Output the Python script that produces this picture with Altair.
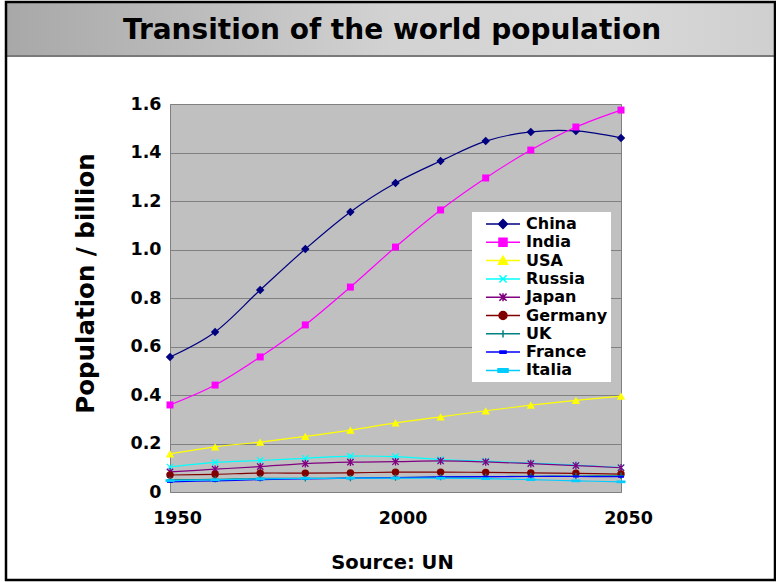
import altair as alt
import pandas as pd

years = [1950, 1960, 1970, 1980, 1990, 2000, 2010, 2020, 2030, 2040, 2050]
countries = ["China", "India", "USA", "Russia", "Japan", "Germany", "UK", "France", "Italia"]

china = [0.557, 0.660, 0.833, 1.002, 1.155, 1.274, 1.365, 1.447, 1.485, 1.489, 1.460]
india = [0.359, 0.441, 0.557, 0.689, 0.845, 1.010, 1.163, 1.295, 1.410, 1.505, 1.575]
usa = [0.157, 0.186, 0.206, 0.229, 0.255, 0.285, 0.310, 0.335, 0.358, 0.378, 0.395]
russia = [0.103, 0.122, 0.130, 0.139, 0.148, 0.146, 0.134, 0.127, 0.119, 0.111, 0.101]
japan = [0.083, 0.094, 0.105, 0.117, 0.123, 0.125, 0.128, 0.124, 0.117, 0.109, 0.100]
germany = [0.070, 0.073, 0.078, 0.078, 0.079, 0.082, 0.082, 0.081, 0.079, 0.077, 0.074]
uk = [0.050, 0.052, 0.056, 0.056, 0.057, 0.059, 0.061, 0.063, 0.065, 0.066, 0.067]
france = [0.042, 0.046, 0.051, 0.054, 0.057, 0.059, 0.062, 0.063, 0.064, 0.064, 0.063]
italia = [0.047, 0.050, 0.054, 0.056, 0.057, 0.057, 0.057, 0.055, 0.051, 0.046, 0.042]

colors = ["#000080", "#FF00FF", "#FFFF00", "#00FFFF", "#800080",
          "#800000", "#008080", "#0000FF", "#00CCFF"]

title_text = ["Transition of the world population"]
y_ticks = [0, 0.2, 0.4, 0.6, 0.8, 1.0, 1.2, 1.4, 1.6]
x_ticks = [1950, 2000, 2050]

series = [china, india, usa, russia, japan, germany, uk, france, italia]
rows = []
for name, vals in zip(countries, series):
    for yr, v in zip(years, vals):
        rows.append({"Year": yr, "Country": name, "Pop": v})
df = pd.DataFrame(rows)

FONT = "DejaVu Sans"

x_enc = alt.X(
    "Year:Q",
    scale=alt.Scale(domain=[1950, 2050], nice=False, zero=False),
    axis=alt.Axis(
        values=x_ticks, format="d", labelFont=FONT, labelFontWeight="bold",
        labelFontSize=17.5, labelColor="black", labelPadding=17, labelOffset=7,
        labelFlush=False, ticks=False, domain=False, grid=False,
        title="Source: UN", titleFont=FONT, titleFontWeight="bold",
        titleFontSize=19.5, titleColor="black", titleX=222, titleY=70,
        titleBaseline="middle", titleAlign="center",
    ),
)
y_enc = alt.Y(
    "Pop:Q",
    scale=alt.Scale(domain=[0, 1.6], nice=False),
    axis=alt.Axis(
        values=y_ticks,
        labelExpr="datum.value == 0 ? '0' : format(datum.value, '.1f')",
        labelFont=FONT, labelFontWeight="bold", labelFontSize=17.5,
        labelColor="black", labelPadding=9, ticks=False, domain=False,
        grid=True, gridColor="#808080", gridWidth=1,
        title="Population / billion", titleFont=FONT, titleFontWeight="bold",
        titleFontSize=24.5, titleColor="black", titleX=-84, titleY=179,
        titleBaseline="middle", titleAlign="center", titleAngle=270,
    ),
)

# plot markers (per series)
marker_specs = {
    "China": dict(shape="diamond", size=72, filled=True),
    "India": dict(shape="square", size=49, filled=True),
    "USA": dict(shape="triangle-up", size=70, filled=True),
    "Russia": dict(shape="M-1,-1L1,1M-1,1L1,-1", size=40, filled=False),
    "Japan": dict(shape="M-1,-1L1,1M-1,1L1,-1M0,-1.2L0,1.2", size=40, filled=False),
    "Germany": dict(shape="circle", size=55, filled=True),
    "UK": dict(shape="M-1,0L1,0M0,-1L0,1", size=40, filled=False),
    "France": dict(shape="M-1,-0.35L1,-0.35L1,0.35L-1,0.35Z", size=36, filled=True),
    "Italia": dict(shape="M-1,-0.3L1,-0.3L1,0.3L-1,0.3Z", size=81, filled=True),
}

# legend symbols: line with marker (unit = 8 px)
LINE = "M0.25,0L4.5,0"
legend_shapes = [
    LINE + "M2.375,-0.56L2.935,0L2.375,0.56L1.815,0Z",
    LINE + "M1.875,-0.5L2.875,-0.5L2.875,0.5L1.875,0.5Z",
    LINE + "M2.375,-0.55L2.95,0.45L1.8,0.45Z",
    LINE + "M1.925,-0.45L2.825,0.45M1.925,0.45L2.825,-0.45",
    LINE + "M1.925,-0.45L2.825,0.45M1.925,0.45L2.825,-0.45M2.375,-0.5L2.375,0.5",
    LINE + "M1.875,0A0.5,0.5,0,1,0,2.875,0A0.5,0.5,0,1,0,1.875,0Z",
    LINE + "M2.375,-0.45L2.375,0.45",
    LINE + "M2,-0.15L2.75,-0.15L2.75,0.15L2,0.15Z",
    LINE + "M1.75,-0.22L3,-0.22L3,0.22L1.75,0.22Z",
]

layers = []
one = pd.DataFrame({"k": [0]})

# decorations: title bar, frame, title
bar = alt.Chart(one).mark_rect(
    fill=alt.LinearGradient(
        gradient="linear", x1=0, x2=1, y1=0, y2=0,
        stops=[
            alt.GradientStop(offset=0, color="#a8a8a8"),
            alt.GradientStop(offset=0.25, color="#bcbcbc"),
            alt.GradientStop(offset=0.5, color="#d2d2d2"),
            alt.GradientStop(offset=0.8, color="#d8d8d8"),
            alt.GradientStop(offset=1, color="#cfcfcf"),
        ],
    )
).encode(x=alt.value(-164), x2=alt.value(605), y=alt.value(-101), y2=alt.value(-48))
bar_line = alt.Chart(one).mark_rule(color="#7a7a7a", strokeWidth=2).encode(
    x=alt.value(-164), x2=alt.value(605), y=alt.value(-48)
)
frame = alt.Chart(one).mark_rect(fill="transparent", stroke="black", strokeWidth=2.5).encode(
    x=alt.value(-164), x2=alt.value(605), y=alt.value(-102), y2=alt.value(476)
)
title = alt.Chart(pd.DataFrame({"t": title_text})).mark_text(
    font=FONT, fontWeight="bold", fontSize=28, align="center",
    baseline="alphabetic", color="black"
).encode(text="t:N", x=alt.value(222), y=alt.value(-65))

layers += [bar, bar_line, frame, title]

for name, col in zip(countries, colors):
    sub = alt.Chart(df).transform_filter(alt.datum.Country == name)
    line = sub.mark_line(color=col, strokeWidth=1.2, interpolate="cardinal").encode(
        x=x_enc, y=y_enc
    )
    spec = marker_specs[name]
    pts = sub.mark_point(
        shape=spec["shape"], size=spec["size"], filled=spec["filled"],
        color=col, opacity=1, strokeWidth=1.3
    ).encode(x=x_enc, y=y_enc)
    layers += [line, pts]

leg = alt.Legend(
    title=None, orient="none", legendX=302, legendY=108,
    fillColor="white", padding=3, rowPadding=1.3,
    symbolSize=256, symbolStrokeWidth=1.5, symbolOpacity=1,
    labelFont=FONT, labelFontWeight="bold", labelFontSize=16,
    labelColor="black", labelOffset=33, labelLimit=300,
)
legend_layer = alt.Chart(df).transform_filter("false").mark_point(
    filled=True, opacity=1
).encode(
    x=x_enc, y=y_enc,
    fill=alt.Fill("Country:N", scale=alt.Scale(domain=countries, range=colors), legend=leg),
    stroke=alt.Stroke("Country:N", scale=alt.Scale(domain=countries, range=colors), legend=leg),
    shape=alt.Shape("Country:N", scale=alt.Scale(domain=countries, range=legend_shapes), legend=leg),
)
layers.append(legend_layer)

chart = alt.layer(*layers).properties(
    width=451, height=388,
    autosize=alt.AutoSizeParams(type="none"),
    padding={"left": 170, "top": 104, "right": 155, "bottom": 90},
    background="white",
).configure_view(fill="#C0C0C0", stroke="#808080", strokeWidth=1)

chart.save("out.html", embed_options={"renderer": "svg", "actions": False})
